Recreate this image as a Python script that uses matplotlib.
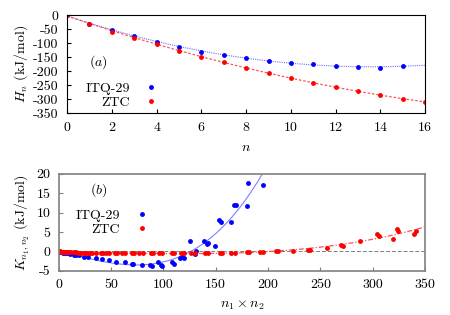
import matplotlib
matplotlib.use("Agg")
import matplotlib.pyplot as plt
import numpy as np

plt.rcParams['font.family'] = 'cmr10'
plt.rcParams['mathtext.fontset'] = 'cm'
plt.rcParams['axes.unicode_minus'] = False
plt.rcParams['font.size'] = 10

# panel (a): H_n vs n
n_itq = [0, 1, 2, 3, 4, 5, 6, 7, 8, 9, 10, 11, 12, 13, 14, 15]
h_itq = [0, -30, -53, -74, -95, -113, -130, -142, -154, -163, -170, -174, -180, -185, -190, -181]
n_ztc = [0, 1, 2, 3, 4, 5, 6, 7, 8, 9, 10, 11, 12, 13, 14, 15, 16]
h_ztc = [0, -30, -59, -81, -104, -127, -148, -168, -189, -206, -225, -242, -257, -272, -287, -299, -310]

# panel (b): K_{n1,n2} vs n1*n2
k_itq_x = [0, 2, 4, 6, 8, 11, 14, 16, 19, 24, 28, 35, 41, 48, 55, 63, 70, 71, 79, 87, 89,
           95, 98, 99, 108, 110, 116, 118, 120, 125, 130, 131, 139, 142, 143, 149, 153, 155,
           165, 167, 169, 180, 181, 195]
k_itq_y = [-0.1, -0.2, -0.3, -0.4, -0.5, -0.7, -0.8, -0.9, -1.0, -1.3, -1.4, -1.7, -2.0, -2.3, -2.7, -2.8,
           -3.1, -3.2, -3.5, -3.4, -3.7, -2.6, -3.4, -3.7, -2.7, -3.2, -1.7, -1.5, -1.7, 2.8, -0.6,
           0.2, 2.7, 1.9, 2.1, 1.5, 8.1, 7.7, 7.6, 11.9, 12.0, 11.7, 17.7, 17.2]
k_ztc_x = [0, 1, 2, 3, 4, 5, 6, 8, 9, 10, 12, 14, 15, 16, 18, 20, 21, 24, 25, 27, 30, 32, 35, 40,
           42, 45, 48, 54, 56, 60, 63, 70, 72, 77, 80, 88, 90, 96, 99, 108, 110, 117, 120, 126,
           130, 140, 143, 154, 156, 165, 168, 180, 182, 192, 195, 208, 210, 224, 238, 240, 256,
           270, 272, 288, 304, 306, 320, 323, 324, 340, 342]
k_ztc_y = [0.0, 0.0, -0.05, -0.1, -0.1, -0.1, -0.15, -0.15, -0.2, -0.2, -0.2, -0.25, -0.25, -0.25,
           -0.3, -0.3, -0.3, -0.3, -0.3, -0.35, -0.35, -0.35, -0.35, -0.4, -0.4, -0.4, -0.4, -0.4,
           -0.45, -0.45, -0.45, -0.45, -0.45, -0.45, -0.45, -0.5, -0.45, -0.45, -0.45, -0.45, -0.45,
           -0.45, -0.4, -0.4, -0.4, -0.4, -0.35, -0.35, -0.3, -0.3, -0.3, -0.2, -0.2, -0.15, -0.1,
           0.0, 0.0, 0.15, 0.35, 0.45, 0.8, 1.7, 1.5, 2.6, 4.5, 4.0, 3.2, 5.8, 5.4, 4.5, 5.3]

blue = '#0000ff'
red = '#ff0000'

fig = plt.figure(figsize=(4.5, 3.15), dpi=100)

# ---- top panel
ax1 = fig.add_axes([0.149, 0.641, 0.796, 0.311])
nn = np.linspace(0, 16, 200)
pb = np.polyfit(n_itq, h_itq, 2)
pr = np.polyfit(n_ztc, h_ztc, 2)
ax1.plot(nn, np.polyval(pb, nn), color='#6f6fff', lw=0.8, ls=(0, (1, 1)))
ax1.plot(nn, np.polyval(pr, nn), color='#ff5050', lw=0.9, ls=(0, (2, 1.5)))
ax1.plot(n_itq, h_itq, 'o', color=blue, ms=3.5, mec='none', label='ITQ-29')
ax1.plot(n_ztc, h_ztc, 'o', color=red, ms=3.5, mec='none', label='ZTC')
ax1.set_xlim(0, 16)
ax1.set_ylim(-350, 0)
ax1.set_xticks(range(0, 17, 2))
ax1.set_yticks(range(-350, 1, 50))
ax1.tick_params(direction='in', length=3, top=False, right=False, pad=6)
ax1.set_xlabel('$n$', labelpad=6)
ax1.set_ylabel('$H_n$ (kJ/mol)', labelpad=2)
ax1.text(0.062, 0.52, '$(a)$', transform=ax1.transAxes, fontsize=10, va='center')
ax1.legend(loc='center right', bbox_to_anchor=(0.28, 0.18), markerfirst=False, frameon=False,
           handletextpad=0.8, handlelength=1.5, borderaxespad=0, labelspacing=0.1,
           fontsize=10)

# ---- bottom panel
ax2 = fig.add_axes([0.131, 0.140, 0.813, 0.308])
gray = '#808080'
xb = np.linspace(0, 200, 300)
xr = np.linspace(0, 350, 300)
qb = np.polyfit(k_itq_x, k_itq_y, 3)
qr = np.polyfit(k_ztc_x, k_ztc_y, 3)
ax2.axhline(0, color=gray, lw=0.7, ls=(0, (4, 2)))
ax2.plot(xb, np.polyval(qb, xb), color='#8080ff', lw=0.8)
ax2.plot(xr, np.polyval(qr, xr), color='#ff5050', lw=0.9, ls=(0, (4, 1.5, 1, 1.5)))
ax2.plot(k_itq_x, k_itq_y, 'o', color=blue, ms=3.5, mec='none', label='ITQ-29')
ax2.plot(k_ztc_x, k_ztc_y, 'o', color=red, ms=3.5, mec='none', label='ZTC')
ax2.set_xlim(0, 350)
ax2.set_ylim(-5, 20)
ax2.set_xticks(range(0, 351, 50))
ax2.set_yticks(range(-5, 21, 5))
for s in ax2.spines.values():
    s.set_color(gray)
    s.set_linewidth(1.2)
ax2.tick_params(direction='in', length=3, top=False, right=False, pad=6, color=gray)
ax2.set_xlabel(r'$n_1 \times n_2$', labelpad=5)
ax2.set_ylabel(r'$K_{n_1,n_2}$ (kJ/mol)', labelpad=4)
ax2.text(0.085, 0.835, '$(b)$', transform=ax2.transAxes, fontsize=10, va='center')
ax2.legend(loc='center right', bbox_to_anchor=(0.27, 0.50), markerfirst=False, frameon=False,
           handletextpad=0.8, handlelength=1.5, borderaxespad=0, labelspacing=0.1,
           fontsize=10)

fig.savefig('out.png', dpi=100)
